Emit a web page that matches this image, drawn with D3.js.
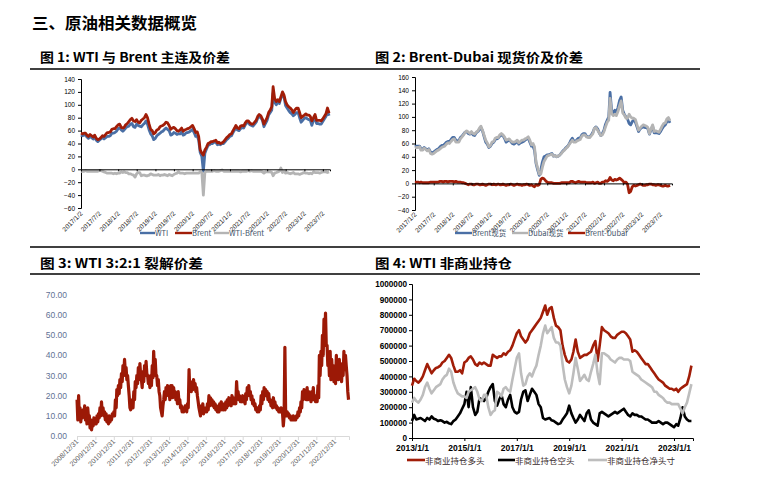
<!DOCTYPE html>
<html><head><meta charset="utf-8">
<script src="https://cdn.jsdelivr.net/npm/d3@7"></script>
<style>body{margin:0;background:#fff}svg{display:block}</style>
</head><body>
<svg id="c" width="758" height="478"></svg>
<script>
// ---------- Figure 1: WTI & Brent (semi-monthly from 2017-01) ----------
const f1TickLabels = ["2017/1/2","2017/7/2","2018/1/2","2018/7/2","2019/1/2","2019/7/2","2020/1/2","2020/7/2","2021/1/2","2021/7/2","2022/1/2","2022/7/2","2023/1/2","2023/7/2"];
const f1Brent = [
56,55,56,56,53,51,54,52,50,53,48,46,47,49,52,51,54,57,57,58,62,63,63,66,
69,70,65,64,65,69,71,74,77,79,75,74,77,73,72,76,78,80,85,80,70,62,60,55,
57,61,62,66,67,68,70,73,72,68,62,64,65,63,60,59,61,64,59,61,62,63,64,66,
68,63,57,58,51,30,25,22,30,34,40,41,43,43,44,45,41,42,40,41,43,46,49,51,
54,55,60,64,68,64,63,67,68,67,72,75,75,72,70,70,73,76,82,85,83,78,70,75,
80,88,92,97,128,110,105,108,105,112,120,115,105,100,97,95,92,88,92,95,95,88,80,82,
84,86,84,84,82,75,80,85,76,76,76,75,78,82,86,95,87];
const f1WTI = [
53,52,53,54,50,48,51,49,47,50,45,43,45,47,49,47,49,51,51,52,56,56,57,59,
63,64,61,59,61,64,66,67,70,71,66,65,70,68,67,66,69,71,75,70,61,55,52,46,
48,52,54,56,58,59,62,64,62,60,53,54,57,56,54,55,55,58,53,54,57,57,58,60,
62,57,51,52,45,26,20,-3,25,31,37,38,40,40,42,42,38,39,38,40,40,43,46,48,
51,52,57,61,65,61,60,63,65,64,69,72,73,69,68,67,70,73,79,82,80,76,66,71,
76,84,88,92,118,104,100,104,102,110,115,112,99,95,91,88,86,83,85,88,88,80,73,76,
79,80,78,77,76,68,76,80,71,71,70,70,74,78,82,90,83];
const f1Spread = [
-3,-3,-3,-2,-3,-3,-3,-3,-3,-3,-3,-3,-2,-2,-3,-4,-5,-6,-6,-6,-6,-7,-6,-7,
-6,-6,-4,-5,-4,-5,-5,-7,-7,-8,-9,-12,-7,-5,-5,-10,-9,-9,-10,-10,-9,-7,-8,-9,
-9,-9,-8,-10,-9,-9,-8,-9,-10,-8,-9,-10,-8,-7,-6,-4,-6,-6,-6,-7,-6,-6,-6,-6,
-6,-6,-6,-6,-6,-4,-5,-40,-5,-3,-3,-3,-3,-3,-2,-3,-3,-3,-2,-1,-3,-3,-3,-3,
-3,-3,-3,-3,-3,-3,-3,-4,-3,-3,-3,-3,-2,-3,-2,-3,-3,-3,-3,-3,-3,-4,-6,-4,
-4,-4,-4,-5,-10,-6,-5,-4,-3,2,-5,-3,-6,-5,-6,-7,-6,-5,-7,-7,-7,-8,-7,-6,
-5,-6,-6,-7,-6,-7,-4,-5,-5,-5,-6,-5,-4,-4,-4,-5,-4];
const f1Names = ["WTI","Brent","WTI-Brent"];

// ---------- Figure 2: Brent / Dubai spot (semi-monthly from 2017-01) ----------
const f2BrentSpot = [
55,56,56,56,52,51,54,52,50,52,47,46,47,49,51,52,55,57,57,59,62,63,63,66,
69,69,65,64,64,69,71,74,77,78,75,74,77,73,72,76,78,81,84,79,70,62,59,54,
56,60,62,66,67,68,71,73,72,68,62,64,65,63,60,59,61,64,59,61,62,63,65,67,
68,62,56,56,50,30,20,12,20,32,40,41,43,43,44,45,41,42,40,41,43,46,49,51,
54,56,60,65,68,64,63,66,68,68,73,75,75,71,70,70,73,77,83,85,82,76,72,75,
80,89,95,100,137,110,106,110,107,114,125,130,110,104,100,97,90,88,93,95,92,85,78,82,
84,85,84,84,82,74,81,86,76,76,76,75,78,82,86,88,93,95,91];
const f2Dubai = [
53,54,54,55,50,50,53,51,49,51,45,44,45,47,49,50,52,54,55,56,59,61,60,63,
66,67,62,62,62,67,70,73,77,79,77,75,78,75,74,77,79,83,86,80,72,65,61,55,
57,62,63,68,69,69,73,75,73,70,65,66,67,64,62,62,63,65,61,63,65,65,67,68,
70,65,58,60,55,32,23,14,14,24,33,37,41,42,43,44,41,42,40,41,43,45,48,50,
53,55,59,62,65,62,62,64,65,66,71,73,73,70,69,69,72,75,83,84,80,76,72,73,
78,85,92,95,128,105,102,104,102,108,117,124,106,103,98,98,104,100,98,98,96,88,80,83,
86,88,87,86,84,75,82,88,78,79,78,77,81,86,90,91,97,99,94];
const f2Spread = [
2,2,2,1,2,1,1,1,1,1,2,2,2,2,2,2,3,3,2,3,3,2,3,3,
3,2,3,2,2,2,1,1,0,-1,-2,-1,-1,-2,-2,-1,-1,-2,-2,-1,-2,-3,-2,-1,
-1,-2,-1,-2,-2,-1,-2,-2,-1,-2,-3,-2,-2,-1,-2,-3,-2,-1,-2,-2,-3,-2,-2,-1,
-2,-3,-2,-4,-5,-2,-3,-2,6,8,7,4,2,1,1,1,0,0,0,0,0,1,1,1,
1,1,1,3,3,2,1,2,3,2,2,2,2,1,1,1,1,2,0,1,2,0,0,2,
2,4,3,5,9,5,4,6,5,6,8,6,4,1,2,-1,-14,-12,-5,-3,-4,-3,-2,-1,
-2,-3,-3,-2,-2,-1,-1,-2,-2,-3,-2,-2,-3,-4,-4,-3,-4,-4,-3];
const f2Names = ["Brent现货","Dubai现货","Brent-Dubai"];

// ---------- Figure 3: WTI 3:2:1 crack spread (semi-monthly from 2009-01) ----------
const f3TickLabels = ["2008/12/31","2009/12/31","2010/12/31","2011/12/31","2012/12/31","2013/12/31","2014/12/31","2015/12/31","2016/12/31","2017/12/31","2018/12/31","2019/12/31","2020/12/31","2021/12/31","2022/12/31"];
const f3Crack = [
18,8,20,9,14,7,12,9,13,10,15,8,12,6,14,9,10,4,8,3,7,5,9,6,
8,6,10,7,11,9,14,10,17,11,14,10,12,8,11,7,9,6,10,7,9,8,11,10,
12,10,18,14,23,20,25,21,28,24,31,27,35,30,38,32,34,28,30,25,20,14,13,15,
18,14,22,18,27,24,30,26,34,28,36,30,28,24,32,27,35,30,37,31,30,26,28,24,
30,25,35,29,42,33,38,30,30,25,28,22,20,14,12,10,15,18,22,18,24,20,25,21,
22,18,25,20,25,19,24,20,22,18,20,16,22,17,18,14,15,12,14,12,13,15,14,12,
16,14,33,22,27,22,25,23,28,24,26,22,24,20,17,14,12,10,15,12,16,11,14,12,
14,12,16,13,20,15,19,16,18,15,17,14,16,13,15,12,14,12,16,13,17,13,15,13,
16,13,17,14,18,15,19,16,18,15,20,16,19,16,18,16,27,20,22,18,20,17,19,17,
20,17,18,16,21,18,24,20,25,20,22,18,20,16,18,15,16,13,14,12,14,12,15,13,
20,16,22,18,24,20,23,20,22,18,21,17,18,15,16,14,19,15,17,14,15,13,14,12,
13,12,14,12,11,5,10,44,12,10,12,10,11,9,10,8,9,8,10,8,9,8,10,9,
12,10,14,12,17,14,22,18,23,19,22,18,24,18,22,19,20,17,22,18,24,18,20,17,
20,17,25,19,40,30,42,35,50,40,58,45,61,45,45,35,40,30,42,28,38,30,35,27,
30,26,40,30,35,28,38,30,33,27,36,30,42,33,40,35,30,22,18];
const f3YTicks = [0,10,20,30,40,50,60,70];

// ---------- Figure 4: WTI non-commercial positions (monthly from 2013-01, thousands) ----------
const f4TickLabels = ["2013/1/1","2015/1/1","2017/1/1","2019/1/1","2021/1/1","2023/1/1"];
const f4Long = [
340,385,370,360,375,400,440,480,450,420,440,455,
460,470,490,500,520,540,520,470,430,430,440,420,
490,500,520,530,510,480,470,490,480,490,480,470,
470,540,530,520,530,530,550,540,560,570,600,640,
680,700,660,640,620,640,680,700,720,740,760,780,
820,860,800,840,850,780,730,720,700,600,540,500,
490,510,560,640,560,520,530,540,540,550,560,600,
630,500,600,720,700,690,680,660,650,650,670,680,
690,690,680,660,640,560,570,560,540,520,500,480,
480,460,440,420,400,380,370,360,340,330,320,320,
310,320,300,320,330,340,350,400,470];
const f4Short = [
110,150,120,125,130,120,110,130,120,140,125,120,
110,115,110,100,105,95,90,110,120,140,160,190,
220,300,200,330,200,150,170,260,250,240,260,300,
330,350,240,210,250,280,220,200,250,280,200,170,
160,170,250,300,310,240,280,320,300,280,220,200,
130,120,125,130,115,110,100,90,95,120,140,160,
210,160,130,100,120,150,130,110,160,180,120,100,
90,80,160,170,160,150,140,150,160,170,160,170,
180,190,170,150,140,160,150,150,140,140,130,120,
120,110,100,100,100,110,100,90,100,100,90,80,
70,90,80,130,200,140,120,110,110];
const f4Net = [
230,260,240,230,250,280,330,360,320,290,310,330,
340,350,380,400,410,450,430,360,320,290,280,270,
270,260,300,310,320,330,300,250,240,280,280,200,
150,170,180,300,290,270,320,330,310,300,380,450,
520,550,420,340,350,400,420,400,440,470,540,600,
680,730,680,700,720,650,620,620,600,480,380,330,
290,340,420,520,450,370,390,410,380,370,430,480,
540,420,350,550,550,540,530,510,500,490,510,520,
520,510,510,510,500,430,420,410,400,380,370,360,
350,340,330,300,300,280,270,260,240,230,230,220,
220,220,220,190,160,200,230,290,350];
const f4Names = ["非商业持仓多头","非商业持仓空头","非商业持仓净头寸"];

// ---------- helpers ----------
const svg = d3.select("#c");
const CJK = '"Noto Sans CJK SC","Noto Sans",sans-serif';
const SANS = '"Liberation Sans",Arial,sans-serif';
const parse = d3.timeParse("%Y/%m/%d");
function semiMonthly(y, m, n){ return d3.range(n).map(i => new Date(y, m + Math.floor(i/2), i%2 ? 16 : 1)); }
function monthly(y, m, n){ return d3.range(n).map(i => new Date(y, m + i, 1)); }
function drawLine(g, dates, vals, x, y, color, w){
  const pts = vals.map((v,i)=>[dates[i], v]);
  g.append("path").datum(pts)
    .attr("fill","none").attr("stroke",color).attr("stroke-width",w)
    .attr("stroke-linejoin","round")
    .attr("d", d3.line().x(d=>x(d[0])).y(d=>y(d[1])));
}

// ---------- titles & rules ----------
svg.append("text").attr("x",32).attr("y",29).attr("font-family",CJK).attr("font-weight","bold")
  .attr("font-size",16).attr("textLength",165).attr("lengthAdjust","spacingAndGlyphs").text("三、原油相关数据概览");
const titles = [
  {t:"图 1: WTI 与 Brent 主连及价差", x:40, y:62, w:190},
  {t:"图 2: Brent-Dubai 现货价及价差", x:375, y:62, w:208},
  {t:"图 3: WTI 3:2:1 裂解价差", x:40, y:268, w:163},
  {t:"图 4: WTI 非商业持仓", x:375, y:268, w:137}
];
titles.forEach(d=>svg.append("text").attr("x",d.x).attr("y",d.y).attr("font-family",CJK)
  .attr("font-weight","bold").attr("font-size",13).attr("textLength",d.w)
  .attr("lengthAdjust","spacingAndGlyphs").text(d.t));
[69,247,274].forEach(yy=>svg.append("line").attr("x1",30).attr("x2",700).attr("y1",yy).attr("y2",yy)
  .attr("stroke","#000").attr("stroke-width",1.3));

// ---------- generic Excel-like panel (fig1/fig2) ----------
function excelPanel(opt){
  const g = svg.append("g");
  const x = d3.scaleTime().domain(opt.xDomain).range(opt.xRange);
  const y = d3.scaleLinear().domain(opt.yDomain).range(opt.yRange);
  const ya = g.append("g").attr("transform",`translate(${opt.xRange[0]},0)`)
    .call(d3.axisLeft(y).tickValues(d3.range(opt.yDomain[0], opt.yDomain[1]+1, 20)).tickSize(3).tickPadding(3));
  ya.select(".domain").attr("stroke","#000");
  ya.selectAll("text").attr("font-family",SANS).attr("font-size",6.5).attr("fill","#000");
  opt.series.forEach(s=>drawLine(g, s.dates, s.vals, x, y, s.color, 2.8));
  const ticks = opt.tickLabels.map(parse);
  const xa = g.append("g").attr("transform",`translate(0,${y(0)})`)
    .call(d3.axisBottom(x).tickValues(ticks).tickSize(2).tickFormat(""));
  xa.select(".domain").attr("stroke","#000");
  g.selectAll(".xl").data(ticks).enter().append("text")
    .attr("transform",(d,i)=>`translate(${x(d)+2},${opt.labelY}) rotate(-45)`)
    .attr("text-anchor","end").attr("font-family",SANS).attr("font-size",6.5).attr("fill","#222")
    .text((d,i)=>opt.tickLabels[i]);
  opt.series.forEach((s,i)=>{
    const L = opt.legend[i];
    g.append("line").attr("x1",L[0]).attr("x2",L[1]).attr("y1",opt.legY).attr("y2",opt.legY)
      .attr("stroke",s.color).attr("stroke-width",2.4);
    g.append("text").attr("x",L[1]).attr("y",opt.legY+2.5).attr("font-family",CJK)
      .attr("font-size",7.5).attr("fill","#44546a").text(s.name);
  });
}

const d1 = semiMonthly(2017,0,f1Brent.length);
excelPanel({
  xDomain:[parse("2017/1/2"), parse("2023/9/10")], xRange:[81,330],
  yDomain:[-60,140], yRange:[208,79], tickLabels:f1TickLabels, labelY:214,
  series:[
    {name:f1Names[0], dates:d1, vals:f1WTI, color:"#4a6fa5"},
    {name:f1Names[1], dates:d1, vals:f1Brent, color:"#a11d08"},
    {name:f1Names[2], dates:d1, vals:f1Spread, color:"#b4b4b4"}],
  legend:[[140,155],[175,192],[214,229]], legY:233
});
const d2 = semiMonthly(2017,0,f2BrentSpot.length);
excelPanel({
  xDomain:[parse("2017/1/2"), parse("2023/10/20")], xRange:[415,672],
  yDomain:[-40,160], yRange:[210,77], tickLabels:f1TickLabels, labelY:215,
  series:[
    {name:f2Names[0], dates:d2, vals:f2BrentSpot, color:"#4a6fa5"},
    {name:f2Names[1], dates:d2, vals:f2Dubai, color:"#b4b4b4"},
    {name:f2Names[2], dates:d2, vals:f2Spread, color:"#a11d08"}],
  legend:[[455,472],[512,528],[568,585]], legY:233
});

// ---------- Figure 3 ----------
(function(){
  const g = svg.append("g");
  const x = d3.scaleTime().domain([parse("2008/12/31"), parse("2023/10/10")]).range([77,349]);
  const y = d3.scaleLinear().domain([0,70]).range([436,295]);
  g.selectAll(".yl").data(f3YTicks).enter().append("text")
    .attr("x",67).attr("y",d=>y(d)+3).attr("text-anchor","end")
    .attr("font-family",SANS).attr("font-size",8.5).attr("fill","#5f7295")
    .text(d=>d3.format(".2f")(d));
  const ticks = f3TickLabels.map(parse);
  const xa = g.append("g").attr("transform",`translate(0,${y(0)})`)
    .call(d3.axisBottom(x).tickValues(ticks).tickSize(4).tickFormat(""));
  xa.select(".domain").attr("stroke","#d9d9d9");
  xa.selectAll("line").attr("stroke","#d9d9d9");
  drawLine(g, semiMonthly(2009,0,f3Crack.length), f3Crack, x, y, "#9c1906", 3.2);
  g.selectAll(".xl").data(ticks).enter().append("text")
    .attr("transform",d=>`translate(${x(d)+2},${y(0)+6}) rotate(-45)`)
    .attr("text-anchor","end").attr("font-family",SANS).attr("font-size",7).attr("fill","#595959")
    .text((d,i)=>f3TickLabels[i]);
})();

// ---------- Figure 4 ----------
(function(){
  const g = svg.append("g");
  const x = d3.scaleTime().domain([parse("2013/1/1"), parse("2023/9/23")]).range([412,693]);
  const y = d3.scaleLinear().domain([0,1000000]).range([438,284]);
  const ya = g.append("g").attr("transform","translate(412,0)")
    .call(d3.axisLeft(y).tickValues(d3.range(0,1000001,100000)).tickSize(3).tickPadding(2).tickFormat(d3.format("d")));
  ya.select(".domain").attr("stroke","#000");
  ya.selectAll("text").attr("font-family",SANS).attr("font-size",8.2).attr("font-weight","bold").attr("fill","#000");
  const dm = monthly(2013,0,f4Long.length);
  drawLine(g, dm, f4Long.map(v=>v*1000), x, y, "#a11d08", 2.6);
  drawLine(g, dm, f4Short.map(v=>v*1000), x, y, "#000000", 2.6);
  drawLine(g, dm, f4Net.map(v=>v*1000), x, y, "#bdbdbd", 2.6);
  const ticks = f4TickLabels.map(parse);
  const xa = g.append("g").attr("transform","translate(0,438)")
    .call(d3.axisBottom(x).tickValues(ticks).tickSize(3).tickPadding(4).tickFormat((d,i)=>f4TickLabels[i]));
  xa.select(".domain").attr("stroke","#000");
  xa.selectAll("text").attr("font-family",SANS).attr("font-size",8.5).attr("font-weight","bold").attr("fill","#000");
  const cols = ["#a11d08","#000000","#bdbdbd"];
  const L = [[407,425],[498,515],[588,607]];
  f4Names.forEach((n,i)=>{
    g.append("line").attr("x1",L[i][0]).attr("x2",L[i][1]).attr("y1",460).attr("y2",460)
      .attr("stroke",cols[i]).attr("stroke-width",2.6);
    g.append("text").attr("x",L[i][1]).attr("y",463.5).attr("font-family",CJK)
      .attr("font-size",8.5).attr("fill","#3a2b2b").text(n);
  });
})();
</script>
</body></html>
